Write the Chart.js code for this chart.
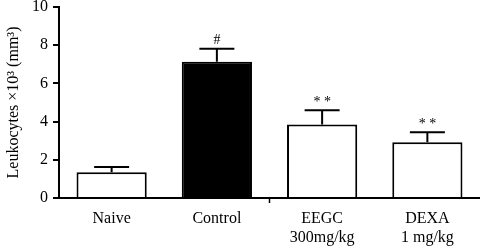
<!DOCTYPE html>
<html><head><meta charset="utf-8">
<script src="https://cdn.jsdelivr.net/npm/chart.js@4/dist/chart.umd.min.js"></script>
<style>html,body{margin:0;padding:0;background:#fff}#wrap{width:480px;height:249px}</style>
</head><body><div id="wrap"><canvas id="c" width="480" height="249"></canvas></div>
<script>
const categories = [["Naive"], ["Control"], ["EEGC", "300mg/kg"], ["DEXA", "1 mg/kg"]];
const means = [1.35, 7.14, 3.85, 2.92];
const errors = [0.27, 0.68, 0.74, 0.52];
const marks = ["", "#", "* *", "* *"];
const fills = ["#ffffff", "#000000", "#ffffff", "#ffffff"];
const yTicks = [0, 2, 4, 6, 8, 10];

const FONT = "'Liberation Serif', 'DejaVu Serif', serif";

const errPlugin = {
  id: 'err',
  afterDatasetsDraw(chart) {
    const ctx = chart.ctx, x = chart.scales.x, y = chart.scales.y;
    ctx.save();
    ctx.strokeStyle = '#000'; ctx.lineWidth = 2;
    means.forEach((m, i) => {
      const cx = x.getPixelForValue(i);
      const y0 = y.getPixelForValue(m), y1 = y.getPixelForValue(m + errors[i]);
      ctx.beginPath();
      ctx.moveTo(cx, y0); ctx.lineTo(cx, y1);
      ctx.moveTo(cx - 17.5, y1); ctx.lineTo(cx + 17.5, y1);
      ctx.stroke();
      if (marks[i]) {
        ctx.fillStyle = '#000';
        ctx.font = "14px " + FONT;
        ctx.textAlign = 'center'; ctx.textBaseline = 'bottom';
        ctx.fillText(marks[i], cx, y1 - 1);
      }
    });
    const sx = (x.getPixelForValue(1) + x.getPixelForValue(2)) / 2;
    ctx.lineWidth = 1.5;
    ctx.beginPath(); ctx.moveTo(sx, y.bottom); ctx.lineTo(sx, y.bottom + 5); ctx.stroke();
    ctx.restore();
  }
};

new Chart(document.getElementById('c'), {
  type: 'bar',
  data: {
    labels: categories,
    datasets: [{
      data: means,
      backgroundColor: fills,
      borderColor: '#000',
      borderWidth: 2,
      borderSkipped: 'bottom',
      categoryPercentage: 1,
      barPercentage: 0.667
    }]
  },
  options: {
    responsive: false,
    animation: false,
    devicePixelRatio: 1,
    layout: { padding: { top: 0, right: 0, left: 0, bottom: 0 } },
    plugins: { legend: { display: false }, tooltip: { enabled: false } },
    scales: {
      x: {
        grid: { display: false },
        border: { display: true, color: '#000', width: 2 },
        ticks: { color: '#000', font: { family: FONT, size: 16 }, padding: 3, maxRotation: 0, autoSkip: false },
        afterFit(s) { s.height = 51; s.paddingLeft = 0; s.paddingRight = 0; }
      },
      y: {
        min: 0, max: 10,
        afterBuildTicks(s) { s.ticks = yTicks.map(v => ({ value: v })); },
        grid: { display: true, drawOnChartArea: false, tickLength: 6, color: '#000', lineWidth: 2 },
        border: { display: true, color: '#000', width: 2 },
        ticks: { color: '#000', font: { family: FONT, size: 16 }, padding: 5 },
        title: { display: true, text: 'Leukocytes ×10³ (mm³)', color: '#000', font: { family: FONT, size: 16 }, padding: { top: 4, bottom: 2 } },
        afterFit(s) { s.width = 59; s.paddingTop = 7; s.paddingBottom = 0; }
      }
    }
  },
  plugins: [errPlugin]
});
</script></body></html>
